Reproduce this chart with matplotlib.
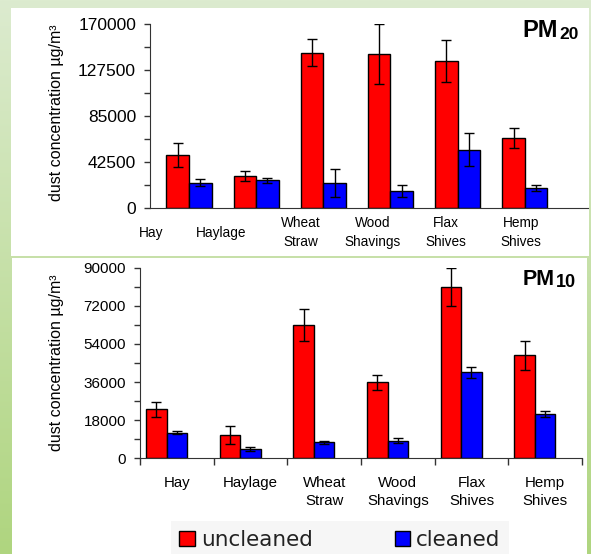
import numpy as np
import matplotlib
matplotlib.use('Agg')
import matplotlib.pyplot as plt
import matplotlib.transforms as mtransforms
from matplotlib.patches import Patch, Rectangle

plt.rcParams['font.family'] = ['Liberation Sans', 'DejaVu Sans']

# data
materials = ['Hay', 'Haylage', 'Wheat\nStraw', 'Wood\nShavings', 'Flax\nShives', 'Hemp\nShives']
series = ['uncleaned', 'cleaned']

pm20_unclean = [49000, 29300, 143500, 142300, 136100, 65000]
pm20_unclean_err = [11500, 4500, 12500, 27500, 19400, 9300]
pm20_clean = [23400, 25600, 23100, 15700, 53900, 18200]
pm20_clean_err = [3000, 2300, 12600, 5300, 15500, 2600]

pm10_unclean = [23100, 11000, 63000, 35900, 80900, 48600]
pm10_unclean_err = [3600, 4300, 7500, 3500, 9000, 7000]
pm10_clean = [12100, 4250, 7550, 8200, 40600, 20900]
pm10_clean_err = [600, 950, 600, 1200, 2600, 1500]

pm20_ticks = [0, 42500, 85000, 127500, 170000]
pm10_ticks = [0, 18000, 36000, 54000, 72000, 90000]
# the top chart's category labels sit off-centre in the original
pm20_label_pos = [-0.57, 0.48, 1.67, 2.73, 3.82, 4.94]

RED = '#ff0000'
BLUE = '#0000ff'
W, H = 591, 554

fig = plt.figure(figsize=(W / 100, H / 100), dpi=100)

# green gradient background
bg = fig.add_axes([0, 0, 1, 1], zorder=-10)
grad = np.linspace(0, 1, 256)[:, None]
c0 = np.array(matplotlib.colors.to_rgb('#dcebcf'))
c1 = np.array(matplotlib.colors.to_rgb('#afd57f'))
img = c0[None, None, :] * (1 - grad[:, :, None]) + c1[None, None, :] * grad[:, :, None]
bg.imshow(img, aspect='auto', extent=[0, 1, 0, 1], zorder=0)
bg.axis('off')


def px_rect(x0, y0, x1, y1):
    return Rectangle((x0 / W, 1 - y1 / H), (x1 - x0) / W, (y1 - y0) / H,
                     transform=fig.transFigure, facecolor='white',
                     edgecolor='none', zorder=2)


bg.add_patch(px_rect(11, 8, 589, 256))
bg.add_patch(px_rect(12, 258, 587, 554))
bg.set_xlim(0, 1)
bg.set_ylim(0, 1)

x = np.arange(len(materials))

# ---- PM20 ----
ax1 = fig.add_axes([150 / W, 1 - 208 / H, 438 / W, 184 / H])
ax1.patch.set_alpha(0)
bw = 0.336
ekw = dict(ecolor='black', elinewidth=1, capsize=3.5, capthick=1)
ax1.bar(x - bw / 2, pm20_unclean, bw, yerr=pm20_unclean_err, color=RED,
        edgecolor='black', linewidth=1, error_kw=ekw)
ax1.bar(x + bw / 2, pm20_clean, bw, yerr=pm20_clean_err, color=BLUE,
        edgecolor='black', linewidth=1, error_kw=ekw)
ax1.set_xlim(-0.58, 5.94)
ax1.set_ylim(0, 170000)
ax1.set_yticks(pm20_ticks)
ax1.set_yticks([21250, 63750, 106250, 148750], minor=True)
ax1.tick_params(axis='y', which='both', length=4, width=1, color='#333333',
                labelsize=12.5, pad=6)
ax1.set_xticks([])
for s in ['top', 'right']:
    ax1.spines[s].set_visible(False)
for s in ['left', 'bottom']:
    ax1.spines[s].set_color('#333333')
trans = mtransforms.blended_transform_factory(ax1.transData, ax1.transAxes)
for p, lab in zip(pm20_label_pos, materials):
    ax1.text(p, -0.135, lab, transform=trans, ha='center', va='center',
             fontsize=9.8, linespacing=1.45)

# ---- PM10 ----
ax2 = fig.add_axes([140 / W, 1 - 458.3 / H, 442 / W, 190.6 / H])
ax2.patch.set_alpha(0)
bw2 = 0.28
ax2.bar(x - bw2, pm10_unclean, bw2, yerr=pm10_unclean_err, color=RED,
        edgecolor='black', linewidth=1, error_kw=ekw)
ax2.bar(x, pm10_clean, bw2, yerr=pm10_clean_err, color=BLUE,
        edgecolor='black', linewidth=1, error_kw=ekw)
ax2.set_xlim(-0.5, 5.5)
ax2.set_ylim(0, 90000)
ax2.set_yticks(pm10_ticks)
ax2.set_yticks([9000, 27000, 45000, 63000, 81000], minor=True)
ax2.tick_params(axis='y', which='both', length=4, width=1, color='#333333',
                labelsize=11, pad=6)
ax2.set_xticks(np.arange(-0.5, 6, 1))
ax2.set_xticklabels([])
ax2.set_xticks(x, minor=True)
ax2.set_xticklabels(materials, minor=True, fontsize=10.8, linespacing=1.35)
ax2.tick_params(axis='x', which='major', length=5, width=1, color='#333333')
ax2.tick_params(axis='x', which='minor', length=0, pad=13)
for s in ['top', 'right']:
    ax2.spines[s].set_visible(False)
for s in ['left', 'bottom']:
    ax2.spines[s].set_color('#333333')

# y labels
ylab = 'dust concentration µg/m³'
fig.text(57 / W, 1 - 113 / H, ylab, rotation=90, ha='center', va='center',
         fontsize=11.5)
fig.text(57 / W, 1 - 363 / H, ylab, rotation=90, ha='center', va='center',
         fontsize=11.5)

# panel titles
fig.text(558 / W, 1 - 37 / H, 'PM', fontsize=17, fontweight='bold',
         ha='right', va='baseline')
fig.text(559 / W, 1 - 39 / H, '20', fontsize=12.5, fontweight='bold',
         ha='left', va='baseline')
fig.text(555 / W, 1 - 285 / H, 'PM', fontsize=15.5, fontweight='bold',
         ha='right', va='baseline')
fig.text(556 / W, 1 - 287 / H, '10', fontsize=13, fontweight='bold',
         ha='left', va='baseline')

# legend
handles = [Patch(facecolor=RED, edgecolor='black', linewidth=1),
           Patch(facecolor=BLUE, edgecolor='black', linewidth=1)]
leg = fig.legend(handles, series, loc='center', ncol=2,
                 bbox_to_anchor=(340 / W, 1 - 540 / H),
                 prop={'family': 'DejaVu Sans', 'size': 15.5},
                 handlelength=0.7, handleheight=0.7, handletextpad=0.3,
                 columnspacing=3.8, frameon=True, fancybox=False,
                 framealpha=1, borderpad=0.4)
leg.get_frame().set_facecolor('#f6f6f6')
leg.get_frame().set_edgecolor('none')
for t in leg.get_texts():
    t.set_color('#222222')

fig.savefig('out.png', dpi=100)
